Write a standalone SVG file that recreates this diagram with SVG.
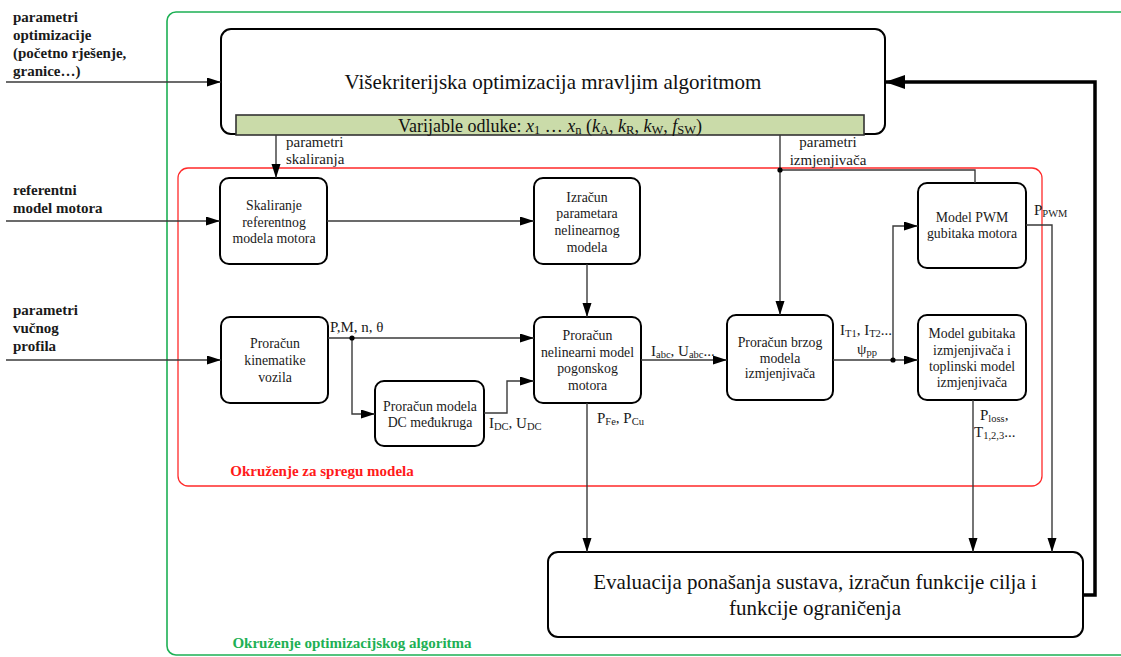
<svg xmlns="http://www.w3.org/2000/svg" width="1121" height="657" viewBox="0 0 1121 657">
  <style>
    .box { fill: #ffffff; stroke: #000000; stroke-width: 2; }
    .bt { font-family: "Liberation Serif", "Times New Roman", serif; font-size: 13.8px; fill: #1a1a1a; text-anchor: middle; }
    .big { font-family: "Liberation Serif", "Times New Roman", serif; font-size: 21px; fill: #111111; text-anchor: middle; }
    .lbl { font-family: "Liberation Serif", "Times New Roman", serif; font-size: 15px; fill: #1a1a1a; }
    .in { font-family: "Liberation Serif", "Times New Roman", serif; font-size: 15px; font-weight: bold; fill: #1a1a1a; }
    .wire { fill: none; stroke: #3a3a3a; stroke-width: 1.4; }
    .wire-a { fill: none; stroke: #3a3a3a; stroke-width: 1.4; marker-end: url(#arr); }
    .thick { fill: none; stroke: #000000; stroke-width: 3.5; marker-end: url(#arrBig); }
    .dot { fill: #000000; }
    .sub { font-size: 10.5px; }
    .bsub { font-size: 12.5px; }
  </style>
  <defs>
    <marker id="arr" markerUnits="userSpaceOnUse" markerWidth="15" markerHeight="10" refX="14" refY="4.5" orient="auto">
      <path d="M0,0 L14,4.5 L0,9 z" fill="#000000"/>
    </marker>
    <marker id="arrBig" markerUnits="userSpaceOnUse" markerWidth="21" markerHeight="15" refX="20" refY="7" orient="auto">
      <path d="M0,0 L20,7 L0,14 z" fill="#000000"/>
    </marker>
  </defs>

  <!-- outer environment: optimisation algorithm -->
  <g id="env-optimizacija">
    <rect x="167" y="12" width="1000" height="643" rx="9" fill="none" stroke="#1db054" stroke-width="1.6"/>
    <text x="352" y="648" font-family="Liberation Serif, Times New Roman, serif" font-size="15px" font-weight="bold" fill="#1db054" text-anchor="middle">Okruženje optimizacijskog algoritma</text>
  </g>

  <!-- inner environment: model coupling -->
  <g id="env-sprega">
    <rect x="178" y="168" width="864" height="318" rx="10" fill="none" stroke="#ff2a2a" stroke-width="1.3"/>
    <text x="322" y="476" font-family="Liberation Serif, Times New Roman, serif" font-size="15px" font-weight="bold" fill="#ff1a1a" text-anchor="middle">Okruženje za spregu modela</text>
  </g>

  <!-- external inputs -->
  <g id="inputs">
    <text class="in" x="13" y="22">parametri</text>
    <text class="in" x="13" y="40">optimizacije</text>
    <text class="in" x="13" y="58">(početno rješenje,</text>
    <text class="in" x="13" y="76">granice…)</text>
    <text class="in" x="13" y="195">referentni</text>
    <text class="in" x="13" y="213">model motora</text>
    <text class="in" x="13" y="315">parametri</text>
    <text class="in" x="13" y="333">vučnog</text>
    <text class="in" x="13" y="351">profila</text>
  </g>

  <!-- ant colony optimiser with decision variable bar -->
  <g id="optimizacija">
    <rect class="box" x="221" y="29" width="664" height="105" rx="10"/>
    <text class="big" x="553" y="89">Višekriterijska optimizacija mravljim algoritmom</text>
    <rect x="236" y="115" width="628" height="20" fill="#cadba9" stroke="#333333" stroke-width="1.6"/>
    <text x="550" y="131.5" font-family="Liberation Serif, Times New Roman, serif" font-size="18px" fill="#111111" text-anchor="middle">Varijable odluke: <tspan font-style="italic">x</tspan><tspan class="bsub" dy="2">1</tspan><tspan dy="-2"> … </tspan><tspan font-style="italic">x</tspan><tspan class="bsub" dy="2">n</tspan><tspan dy="-2"> (</tspan><tspan font-style="italic">k</tspan><tspan class="bsub" dy="2">A</tspan><tspan dy="-2">, </tspan><tspan font-style="italic">k</tspan><tspan class="bsub" dy="2">R</tspan><tspan dy="-2">, </tspan><tspan font-style="italic">k</tspan><tspan class="bsub" dy="2">W</tspan><tspan dy="-2">, </tspan><tspan font-style="italic">f</tspan><tspan class="bsub" dy="2">SW</tspan><tspan dy="-2">)</tspan></text>
  </g>

  <g id="skaliranje">
    <rect class="box" x="220" y="178" width="107" height="86" rx="9"/>
    <text class="bt" x="274" y="209.5">Skaliranje</text>
    <text class="bt" x="274" y="226.5">referentnog</text>
    <text class="bt" x="274" y="243">modela motora</text>
  </g>

  <g id="izracun-parametara">
    <rect class="box" x="534" y="178" width="106" height="86" rx="9"/>
    <text class="bt" x="587" y="201.5">Izračun</text>
    <text class="bt" x="587" y="218">parametara</text>
    <text class="bt" x="587" y="235">nelinearnog</text>
    <text class="bt" x="587" y="251.5">modela</text>
  </g>

  <g id="kinematika">
    <rect class="box" x="221" y="317" width="107" height="86" rx="9"/>
    <text class="bt" x="275" y="348">Proračun</text>
    <text class="bt" x="275" y="365">kinematike</text>
    <text class="bt" x="275" y="382">vozila</text>
  </g>

  <g id="dc-medukrug">
    <rect class="box" x="375" y="381" width="109" height="65" rx="9"/>
    <text class="bt" x="430" y="410.5">Proračun modela</text>
    <text class="bt" x="430" y="426.5">DC međukruga</text>
  </g>

  <g id="nelinearni-model">
    <rect class="box" x="534" y="317" width="107" height="86" rx="9"/>
    <text class="bt" x="587.5" y="340">Proračun</text>
    <text class="bt" x="587.5" y="356.5">nelinearni model</text>
    <text class="bt" x="587.5" y="373">pogonskog</text>
    <text class="bt" x="587.5" y="389.5">motora</text>
  </g>

  <g id="brzi-model">
    <rect class="box" x="727" y="315" width="106" height="85" rx="9"/>
    <text class="bt" x="780" y="346.5">Proračun brzog</text>
    <text class="bt" x="780" y="362.5">modela</text>
    <text class="bt" x="780" y="378">izmjenjivača</text>
  </g>

  <g id="pwm-gubici">
    <rect class="box" x="918" y="183" width="108" height="85" rx="9"/>
    <text class="bt" x="972" y="221.5">Model PWM</text>
    <text class="bt" x="972" y="238">gubitaka motora</text>
  </g>

  <g id="gubici-izmjenjivaca">
    <rect class="box" x="918" y="315" width="108" height="85" rx="9"/>
    <text class="bt" x="972" y="338">Model gubitaka</text>
    <text class="bt" x="972" y="354.5">izmjenjivača i</text>
    <text class="bt" x="972" y="370.5">toplinski model</text>
    <text class="bt" x="972" y="386.5">izmjenjivača</text>
  </g>

  <g id="evaluacija">
    <rect class="box" x="548" y="552" width="535" height="85" rx="10"/>
    <text class="big" x="815" y="589">Evaluacija ponašanja sustava, izračun funkcije cilja i</text>
    <text class="big" x="815" y="615">funkcije ograničenja</text>
  </g>

  <!-- connectors -->
  <g id="connectors">
    <path class="wire-a" d="M6,82 H221"/>
    <path class="wire-a" d="M6,221 H220"/>
    <path class="wire-a" d="M6,360 H221"/>
    <path class="wire-a" d="M276,135 V178"/>
    <path class="wire-a" d="M327,221 H534"/>
    <path class="wire-a" d="M587,264 V317"/>
    <path class="wire-a" d="M328,338 H534"/>
    <path class="wire-a" d="M352,338 V414 H375"/>
    <path class="wire-a" d="M484,413 H507 V381 H534"/>
    <path class="wire-a" d="M641,360 H727"/>
    <path class="wire-a" d="M587,403 V552"/>
    <path class="wire-a" d="M780,135 V315"/>
    <path class="wire" d="M780,170 H975 V183"/>
    <path class="wire-a" d="M833,360 H918"/>
    <path class="wire-a" d="M893,360 V226 H918"/>
    <path class="wire-a" d="M1026,225 H1052 V552"/>
    <path class="wire-a" d="M973,400 V552"/>
    <path class="thick" d="M1083,595 H1095 V82 H885"/>
    <circle class="dot" cx="352" cy="338" r="2.6"/>
    <circle class="dot" cx="780" cy="170" r="2.6"/>
    <circle class="dot" cx="893" cy="360" r="2.6"/>

    <!-- connector labels -->
    <text class="lbl" x="286" y="147">parametri</text>
    <text class="lbl" x="286" y="164">skaliranja</text>
    <text class="lbl" x="828" y="147" text-anchor="middle">parametri</text>
    <text class="lbl" x="828" y="165" text-anchor="middle">izmjenjivača</text>
    <text class="lbl" x="330" y="332">P,M, n, θ</text>
    <text class="lbl" x="489" y="428">I<tspan class="sub" dy="2">DC</tspan><tspan dy="-2">, U</tspan><tspan class="sub" dy="2">DC</tspan></text>
    <text class="lbl" x="651" y="356">I<tspan class="sub" dy="2">abc</tspan><tspan dy="-2">, U</tspan><tspan class="sub" dy="2">abc</tspan><tspan dy="-2">...</tspan></text>
    <text class="lbl" x="597" y="423">P<tspan class="sub" dy="2">Fe</tspan><tspan dy="-2">, P</tspan><tspan class="sub" dy="2">Cu</tspan></text>
    <text class="lbl" x="840" y="335">I<tspan class="sub" dy="2">T1</tspan><tspan dy="-2">, I</tspan><tspan class="sub" dy="2">T2</tspan><tspan dy="-2">...</tspan></text>
    <text class="lbl" x="857" y="354">ψ<tspan class="sub" dy="2">pp</tspan></text>
    <text class="lbl" x="1034" y="215">P<tspan class="sub" dy="2">PWM</tspan></text>
    <text class="lbl" x="980" y="420">P<tspan class="sub" dy="2">loss</tspan><tspan dy="-2">,</tspan></text>
    <text class="lbl" x="974" y="437">T<tspan class="sub" dy="2">1,2,3</tspan><tspan dy="-2">...</tspan></text>
  </g>
</svg>
